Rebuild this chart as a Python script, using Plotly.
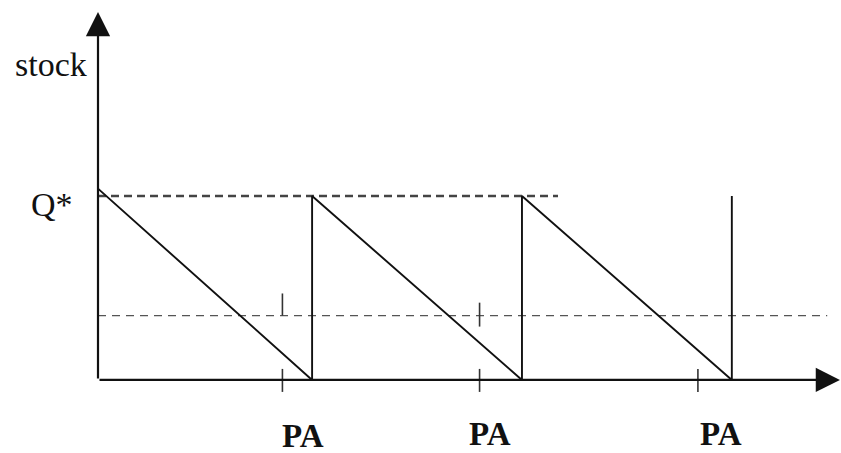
import plotly.graph_objects as go

# stock level over time (time in order cycles, stock as a fraction of Q*)
stock_t = [0, 1.01, 1.01, 2.0, 2.0, 2.99, 2.99]
stock_level = [1.04, 0, 1, 0, 1, 0, 1]

q_star = 1.0
q_line_end = 2.17
reorder_level = 0.35
reorder_line_end = 3.44

# reorder points (PA) on the time axis
pa_t = [0.87, 1.80, 2.83]
# small marks on the reorder line: (time, bottom, top)
pa_marks = [(0.87, 0.35, 0.47), (1.80, 0.29, 0.42)]
pa_label_t = [0.967, 1.849, 2.939]
pa_label_y = [-0.306, -0.296, -0.296]

x_axis_end = 3.5
y_axis_end = 2.0

serif = "Liberation Serif, Times New Roman, serif"

fig = go.Figure()

# dashed reference levels
fig.add_trace(go.Scatter(
    x=[0, q_line_end], y=[q_star, q_star], mode="lines",
    line=dict(color="#444444", width=2.6, dash="8px,5px")
))
fig.add_trace(go.Scatter(
    x=[0, reorder_line_end], y=[reorder_level, reorder_level], mode="lines",
    line=dict(color="#555555", width=1.3, dash="8px,6px")
))

# sawtooth
fig.add_trace(go.Scatter(
    x=stock_t, y=stock_level, mode="lines",
    line=dict(color="#111111", width=1.9)
))

# tick marks on the time axis and on the reorder line
tx, ty = [], []
for t in pa_t:
    tx += [t, t, None]
    ty += [-0.065, 0.06, None]
for t, lo, hi in pa_marks:
    tx += [t, t, None]
    ty += [lo, hi, None]
fig.add_trace(go.Scatter(
    x=tx, y=ty, mode="lines",
    line=dict(color="#333333", width=1.6)
))

annotations = []
# axes with arrow heads
for tip_x, tip_y in [(0, y_axis_end), (x_axis_end, 0)]:
    annotations.append(dict(
        x=tip_x, y=tip_y, ax=0, ay=0, xref="x", yref="y",
        axref="x", ayref="y", text="", showarrow=True,
        arrowhead=2, arrowsize=2.2, arrowwidth=2.2, arrowcolor="#111111",
        standoff=0, startstandoff=0
    ))

label_font = dict(family=serif, size=34, color="#111111")
annotations.append(dict(x=-0.222, y=1.715, text="stock", showarrow=False,
                        xanchor="center", yanchor="middle", font=label_font))
annotations.append(dict(x=-0.217, y=0.955, text="Q*", showarrow=False,
                        xanchor="center", yanchor="middle", font=label_font))
pa_font = dict(family=serif, size=33, color="#111111", weight="bold")
for t, y in zip(pa_label_t, pa_label_y):
    annotations.append(dict(x=t, y=y, text="PA", showarrow=False,
                            xanchor="center", yanchor="middle", font=pa_font))

fig.update_layout(
    width=841, height=453,
    margin=dict(l=0, r=0, t=0, b=0),
    paper_bgcolor="white", plot_bgcolor="white",
    showlegend=False,
    xaxis=dict(visible=False, range=[-0.4623, 3.505]),
    yaxis=dict(visible=False, range=[-0.397, 2.065]),
    annotations=annotations
)

# the page body has an 8px default margin; drop it so the chart fills the window
fig.write_html("out.html", config={"displayModeBar": False},
               post_script="document.body.style.margin = '0';")
